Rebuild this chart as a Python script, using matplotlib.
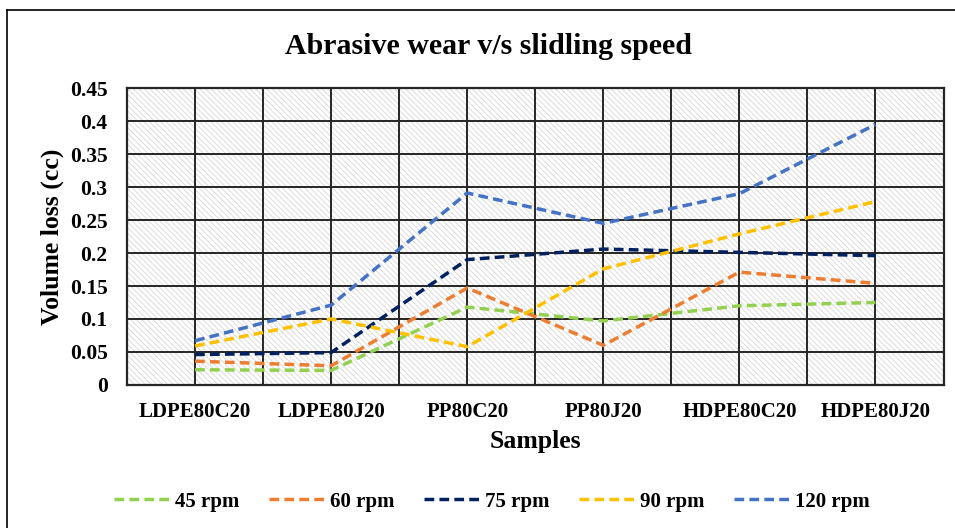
import matplotlib
matplotlib.use('Agg')
import matplotlib.pyplot as plt
from matplotlib.lines import Line2D
from matplotlib.ticker import FuncFormatter, MultipleLocator

# ── Data ─────────────────────────────────────────────────────────────────────
samples = ['LDPE80C20', 'LDPE80J20', 'PP80C20', 'PP80J20', 'HDPE80C20', 'HDPE80J20']
rpm_45 = [0.023, 0.022, 0.118, 0.097, 0.120, 0.125]
rpm_60 = [0.036, 0.029, 0.147, 0.060, 0.171, 0.154]
rpm_75 = [0.046, 0.049, 0.190, 0.206, 0.201, 0.196]
rpm_90 = [0.059, 0.100, 0.058, 0.176, 0.229, 0.278]
rpm_120 = [0.067, 0.121, 0.291, 0.245, 0.290, 0.395]
series_labels = ['45 rpm', '60 rpm', '75 rpm', '90 rpm', '120 rpm']

colors = ['#92D050', '#ED7D31', '#002060', '#FFC000', '#4472C4']

plt.rcParams['font.family'] = ['Liberation Serif', 'DejaVu Serif']
plt.rcParams['font.weight'] = 'bold'
plt.rcParams['hatch.color'] = '#d6d6d6'
plt.rcParams['hatch.linewidth'] = 0.6

fig = plt.figure(figsize=(9.55, 5.28), dpi=100)
ax = fig.add_axes([0.133, 0.271, 0.855, 0.562])

# hatched plot-area background
ax.add_patch(plt.Rectangle((0, 0), 1, 1, transform=ax.transAxes, facecolor='white',
                           edgecolor='#d6d6d6', hatch='\\' * 6, linewidth=0, zorder=0))

x = list(range(len(samples)))
for vals, c in zip([rpm_45, rpm_60, rpm_75, rpm_90, rpm_120], colors):
    ax.plot(x, vals, color=c, linewidth=2.5, linestyle=(0, (2.8, 1.5)), zorder=3)

ax.set_xlim(-0.5, 5.5)
ax.set_ylim(0, 0.45)
ax.yaxis.set_major_locator(MultipleLocator(0.05))
ax.xaxis.set_minor_locator(MultipleLocator(0.5))
ax.set_xticks(x)
ax.set_xticklabels(samples, fontsize=15, fontweight='bold')
ax.yaxis.set_major_formatter(FuncFormatter(lambda v, p: f'{v:.2f}'.rstrip('0').rstrip('.') if v else '0'))
for lab in ax.get_yticklabels():
    lab.set_fontsize(15.5)
    lab.set_fontweight('bold')
ax.tick_params(axis='both', which='both', length=0)
ax.tick_params(axis='y', pad=14)
ax.tick_params(axis='x', pad=12)

ax.grid(True, which='major', axis='y', color='#262626', linewidth=1.4, zorder=1)
ax.grid(True, which='both', axis='x', color='#262626', linewidth=1.4, zorder=1)
ax.set_axisbelow(True)
for s in ax.spines.values():
    s.set_color('#262626')
    s.set_linewidth(1.6)

ax.set_ylabel('Volume loss (cc)', fontsize=18.5, fontweight='bold', labelpad=4)
ax.set_xlabel('Samples', fontsize=18.5, fontweight='bold', labelpad=6)
fig.text(0.511, 0.912, 'Abrasive wear v/s slidling speed', ha='center', va='center',
         fontsize=21.5, fontweight='bold')

handles = [Line2D([0], [0], color=c, linewidth=2.5, linestyle=(0, (2.8, 1.5))) for c in colors]
fig.legend(handles, series_labels, loc='center', bbox_to_anchor=(0.515, 0.05), ncol=5,
           frameon=False, fontsize=15, handlelength=2.8, handletextpad=0.15, columnspacing=1.4)

# outer chart border (top and left visible)
fig.add_artist(Line2D([0.0073, 0.0073], [0, 0.981], color='black', linewidth=1.2,
                      transform=fig.transFigure))
fig.add_artist(Line2D([0.0073, 1.0], [0.981, 0.981], color='black', linewidth=1.2,
                      transform=fig.transFigure))

fig.savefig('out.png', dpi=100)
